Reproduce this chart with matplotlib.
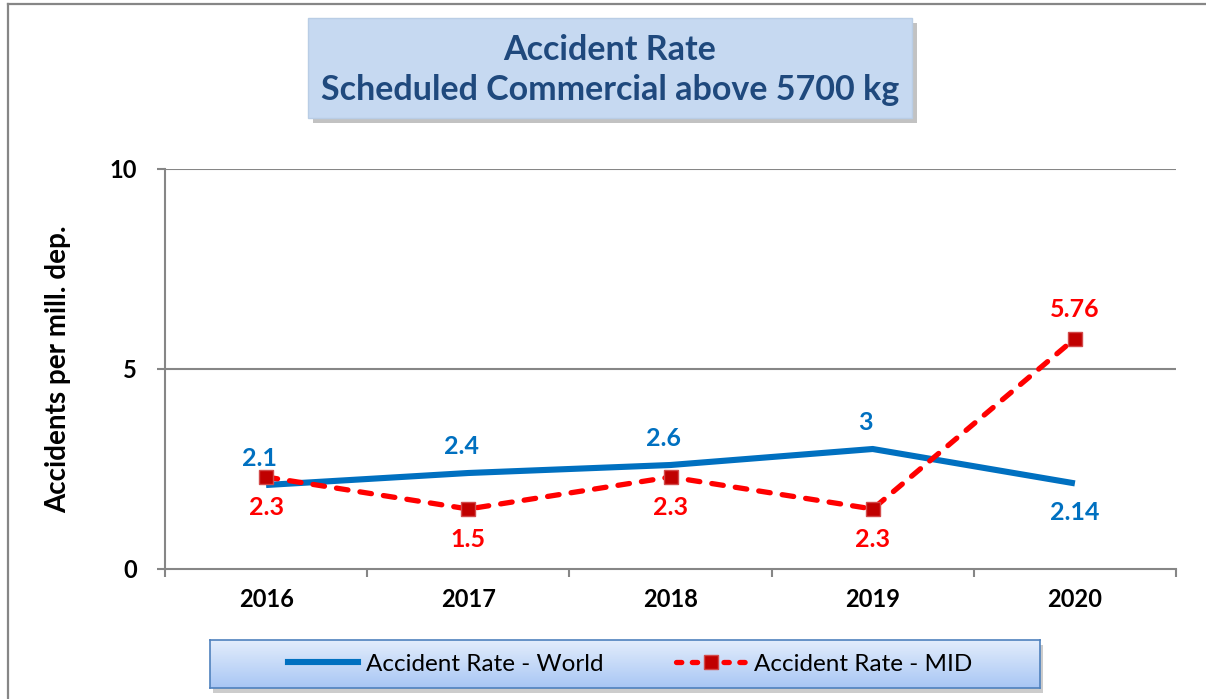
import numpy as np
import matplotlib
matplotlib.use("Agg")
import matplotlib.pyplot as plt
from matplotlib.patches import Rectangle
from matplotlib.lines import Line2D

# Chart data
years = ["2016", "2017", "2018", "2019", "2020"]
world_rate = [2.1, 2.4, 2.6, 3.0, 2.14]
mid_rate = [2.3, 1.5, 2.3, 1.5, 5.76]
world_labels = ["2.1", "2.4", "2.6", "3", "2.14"]
mid_labels = ["2.3", "1.5", "2.3", "2.3", "5.76"]
y_ticks = [0, 5, 10]

# label side: 1 above the point, -1 below
world_side = [1, 1, 1, 1, -1]
mid_side = [-1, -1, -1, -1, 1]

plt.rcParams['font.family'] = ['Lato', 'DejaVu Sans']

W, H = 1206, 699
fig = plt.figure(figsize=(W / 100, H / 100), dpi=100)
fig.patch.set_facecolor("white")

def fx(px):
    return px / W

def fy(py):
    return 1 - py / H

grey = "#868686"
world_col = "#0070C0"
mid_col = "#FF0000"

# outer chart border (left and top only visible)
fig.add_artist(Line2D([fx(8), fx(8)], [fy(4), 0], color=grey, lw=1.6))
fig.add_artist(Line2D([fx(8), 1], [fy(4), fy(4)], color=grey, lw=1.6))

# main axes
ax = fig.add_axes([fx(165), fy(569), fx(1176) - fx(165), fy(169) - fy(569)])
x = np.arange(len(years)) + 0.5
ax.set_xlim(0, len(years))
ax.set_ylim(0, 10)

for yv in y_ticks[1:]:
    ax.axhline(yv, color=grey, lw=1.5, zorder=1)

ax.plot(x, world_rate, color=world_col, lw=4.4, solid_capstyle="butt", zorder=3)
ax.plot(x, mid_rate, color=mid_col, lw=3.8, dashes=(2.2, 2.3), dash_capstyle="round",
        marker="s", ms=10.5, mfc="#C00000", mec="#D24A4A", mew=1, zorder=4)

for xi, v, lab, s in zip(x, world_rate, world_labels, world_side):
    ax.annotate(lab, (xi, v), xytext=(-5 if s > 0 else 0, 19 if s > 0 else -21),
                textcoords="offset points", ha="center", va="center",
                fontsize=18, fontweight="bold", color=world_col, zorder=5)
for xi, v, lab, s in zip(x, mid_rate, mid_labels, mid_side):
    ax.annotate(lab, (xi, v), xytext=(0, 21 if s > 0 else -22),
                textcoords="offset points", ha="center", va="center",
                fontsize=18, fontweight="bold", color=mid_col, zorder=5)

for side in ["top", "right"]:
    ax.spines[side].set_visible(False)
ax.spines["left"].set_color(grey)
ax.spines["bottom"].set_color(grey)
ax.spines["left"].set_linewidth(1.5)
ax.spines["bottom"].set_linewidth(1.5)

ax.set_yticks(y_ticks)
ax.set_yticklabels([str(t) for t in y_ticks], fontsize=17, fontweight="bold")
ax.set_xticks(np.arange(len(years) + 1))
ax.set_xticklabels([])
ax.set_xticks(x, minor=True)
ax.set_xticklabels(years, minor=True, fontsize=17, fontweight="bold")
ax.tick_params(axis="x", which="major", direction="out", length=6, width=1.5, color=grey)
ax.tick_params(axis="x", which="minor", length=0, pad=14)
ax.tick_params(axis="y", direction="out", length=6, width=1.5, color=grey, pad=14)
ax.set_ylabel("Accidents per mill. dep.", fontsize=20, fontweight="bold", labelpad=28)
ax.patch.set_alpha(0)

# title box with shadow
fig.add_artist(Rectangle((fx(313), fy(123)), fx(912) - fx(308), fy(18) - fy(118),
                         transform=fig.transFigure, facecolor="#9a9a9a", edgecolor="none",
                         alpha=0.6, zorder=0))
fig.add_artist(Rectangle((fx(308), fy(118)), fx(912) - fx(308), fy(18) - fy(118),
                         transform=fig.transFigure, facecolor="#C6D9F1", edgecolor="#B9CDE5",
                         lw=1, zorder=1))
fig.text(fx(610), fy(70), "Accident Rate\nScheduled Commercial above 5700 kg",
         ha="center", va="center", fontsize=24.5, fontweight="bold", color="#1F497D",
         linespacing=1.3, zorder=2)

# legend box with gradient
fig.add_artist(Rectangle((fx(213), fy(693)), fx(1040) - fx(210), fy(640) - fy(688),
                         transform=fig.transFigure, facecolor="#9a9a9a", edgecolor="none",
                         alpha=0.5, zorder=0))
lax = fig.add_axes([fx(210), fy(688), fx(1040) - fx(210), fy(640) - fy(688)])
grad = np.linspace(0, 1, 100).reshape(-1, 1)
lax.imshow(grad, aspect="auto", cmap=matplotlib.colors.LinearSegmentedColormap.from_list(
    "g", ["#E4EEFC", "#A8C6F4"]), extent=(0, 1, 0, 1), origin="upper")
lax.set_xticks([])
lax.set_yticks([])
for sp in lax.spines.values():
    sp.set_color("#4F81BD")
    sp.set_linewidth(1.2)

handles = [
    Line2D([], [], color=world_col, lw=4.4),
    Line2D([], [], color=mid_col, lw=3.8, dashes=(1.0, 2.0), dash_capstyle="round",
           marker="s", ms=10.5, mfc="#C00000", mec="#D24A4A"),
]
fig.legend(handles, ["Accident Rate - World", "Accident Rate - MID"],
           loc="center", bbox_to_anchor=(fx(630), fy(664)), ncol=2, frameon=False,
           fontsize=17.5, handlelength=2.9, handletextpad=0.3, columnspacing=3.0)

fig.savefig("out.png", dpi=100)
